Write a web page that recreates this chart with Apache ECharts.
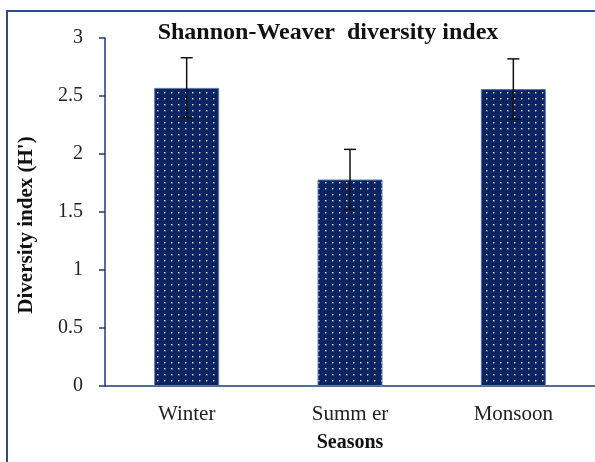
<!DOCTYPE html>
<html>
<head>
<meta charset="utf-8">
<script src="https://cdn.jsdelivr.net/npm/echarts@6/dist/echarts.min.js"></script>
<style>
  html, body { margin: 0; padding: 0; background: #fff; }
  #chart { width: 595px; height: 462px; }
</style>
</head>
<body>
<div id="chart"></div>
<script>
const seasons = ['Winter', 'Summ er', 'Monsoon']
const diversity = [2.57, 1.78, 2.56]
const errors = [0.26, 0.26, 0.26]
const yTicks = [0, 0.5, 1, 1.5, 2, 2.5, 3]

const serif = '"Liberation Serif", "DejaVu Serif", serif'
const navy = '#0c2461'

// dotted fill, like the office "small dots" pattern
function dotPattern() {
  const c = document.createElement('canvas')
  c.width = 7
  c.height = 6
  const ctx = c.getContext('2d')
  ctx.fillStyle = navy
  ctx.fillRect(0, 0, 7, 6)
  ctx.fillStyle = '#e8ecf5'
  ctx.fillRect(3, 2, 1.4, 1.4)
  return c
}

const chart = echarts.init(document.getElementById('chart'), null, { renderer: 'canvas' })

chart.setOption({
  animation: false,
  title: {
    text: 'Shannon-Weaver  diversity index',
    left: 323,
    top: 16,
    textAlign: 'center',
    textStyle: { fontFamily: serif, fontSize: 24, fontWeight: 'bold', color: '#111' },
  },
  graphic: [
    {
      type: 'rect',
      shape: { x: 7, y: 11, width: 620, height: 480 },
      style: { fill: 'none', stroke: '#2c4d8c', lineWidth: 2 },
      silent: true,
    },
  ],
  grid: { left: 105, top: 38, width: 495, height: 348 },
  xAxis: {
    type: 'category',
    data: seasons,
    name: 'Seasons',
    nameLocation: 'middle',
    nameGap: 47,
    nameTextStyle: { fontFamily: serif, fontSize: 20, fontWeight: 'bold', color: '#111' },
    axisLine: { lineStyle: { color: '#1f3a7a', width: 1.5 } },
    axisTick: { length: 6, lineStyle: { color: '#1f3a7a', width: 1.5 } },
    axisLabel: { fontFamily: serif, fontSize: 21, color: '#222', margin: 18 },
  },
  yAxis: {
    type: 'value',
    min: 0,
    max: 3,
    interval: 0.5,
    name: "Diversity index (H')",
    nameLocation: 'middle',
    nameGap: 68,
    nameTextStyle: { fontFamily: serif, fontSize: 21, fontWeight: 'bold', color: '#111', padding: [0, 26, 0, 0] },
    axisLine: { show: true, lineStyle: { color: '#1f3a7a', width: 1.5 } },
    axisTick: { show: true, length: 6, lineStyle: { color: '#1f3a7a', width: 1.5 } },
    splitLine: { show: false },
    axisLabel: {
      fontFamily: serif,
      fontSize: 20,
      color: '#222',
      margin: 22,
      formatter: (v) => (yTicks.includes(v) ? String(v) : ''),
    },
  },
  series: [
    {
      type: 'bar',
      data: diversity,
      barWidth: 65,
      itemStyle: {
        color: { image: dotPattern(), repeat: 'repeat' },
        borderColor: '#5a78b0',
        borderWidth: 1,
      },
      z: 2,
    },
    {
      type: 'custom',
      z: 5,
      data: diversity.map((v, i) => [i, v - errors[i], v + errors[i]]),
      renderItem: (params, api) => {
        const lo = api.coord([api.value(0), api.value(1)])
        const hi = api.coord([api.value(0), api.value(2)])
        const half = 6
        const style = { stroke: '#111', lineWidth: 1.5 }
        return {
          type: 'group',
          children: [
            { type: 'line', shape: { x1: hi[0], y1: hi[1], x2: lo[0], y2: lo[1] }, style },
            { type: 'line', shape: { x1: hi[0] - half, y1: hi[1], x2: hi[0] + half, y2: hi[1] }, style },
            { type: 'line', shape: { x1: lo[0] - half, y1: lo[1], x2: lo[0] + half, y2: lo[1] }, style },
          ],
        }
      },
    },
  ],
})
</script>
</body>
</html>
